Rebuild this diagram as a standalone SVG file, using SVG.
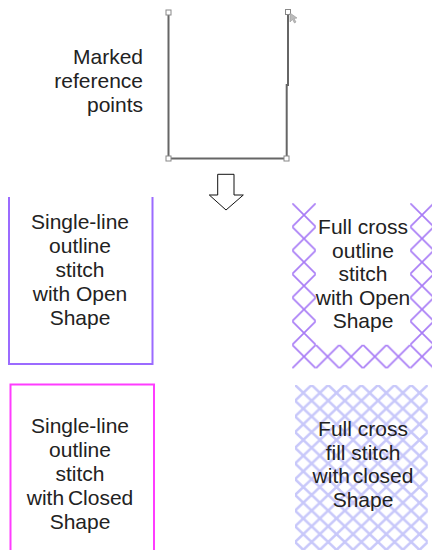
<svg xmlns="http://www.w3.org/2000/svg" width="432" height="550" viewBox="0 0 432 550">
<style>
text{font-family:"Liberation Sans",Arial,sans-serif;font-size:21px;fill:#222}
.c{text-anchor:middle}
.e{text-anchor:end}
.ref{fill:none;stroke:#666;stroke-width:2}
.pt{fill:#fff;stroke:#888;stroke-width:1}
</style>
<defs>
<pattern id="xo" patternUnits="userSpaceOnUse" x="292.2" y="203.2" width="23.6" height="23.6">
<path d="M0,0L23.6,23.6M23.6,0L0,23.6" stroke="#a87cf6" stroke-width="1.7" fill="none"/>
</pattern>
<pattern id="xf" patternUnits="userSpaceOnUse" x="295" y="385" width="16.6" height="15.7">
<path d="M0,0L16.6,15.7M16.6,0L0,15.7" stroke="#c8c8fa" stroke-width="2.6" fill="none"/>
</pattern>
</defs>
<g id="reference-shape">
<path class="ref" d="M168.5,12.5V158.5H286.7V85H288V12"/>
<rect class="pt" x="166" y="10" width="5" height="5"/>
<rect class="pt" x="285.5" y="9.5" width="5" height="5"/>
<rect class="pt" x="166" y="156" width="5" height="5"/>
<rect class="pt" x="284" y="156" width="5" height="5"/>
<path d="M290,13L290,22L292.5,19.5L294.5,23L296,22L294,18.5L297,18Z" fill="#bbb" stroke="#999" stroke-width="0.6"/>
<text class="e" x="143" y="64">Marked</text>
<text class="e" x="143" y="88">reference</text>
<text class="e" x="143" y="112">points</text>
</g>
<g id="connectors">
<path d="M217.7,174.3H234V195H243.3L226,210L209.3,195H217.7Z" fill="#fff" stroke="#111" stroke-width="1"/>
</g>
<g id="single-open">
<path d="M9,197V364H152.5V197" fill="none" stroke="#9b6bff" stroke-width="2"/>
<text class="c" x="80" y="229">Single-line</text>
<text class="c" x="80" y="253">outline</text>
<text class="c" x="80" y="277">stitch</text>
<text class="c" x="80" y="301">with Open</text>
<text class="c" x="80" y="325">Shape</text>
</g>
<g id="cross-open">
<rect x="292.2" y="203.2" width="23.6" height="165.2" fill="url(#xo)"/>
<rect x="315.8" y="344.8" width="94.4" height="23.6" fill="url(#xo)"/>
<rect x="410.2" y="203.2" width="23.6" height="165.2" fill="url(#xo)"/>
<text class="c" x="363" y="234">Full cross</text>
<text class="c" x="363" y="258">outline</text>
<text class="c" x="363" y="281">stitch</text>
<text class="c" x="363" y="305">with Open</text>
<text class="c" x="363" y="328">Shape</text>
</g>
<g id="single-closed">
<rect x="10.5" y="384.5" width="143.5" height="180" fill="none" stroke="#ff3cff" stroke-width="2"/>
<text class="c" x="80" y="433">Single-line</text>
<text class="c" x="80" y="457">outline</text>
<text class="c" x="80" y="481">stitch</text>
<text class="c" x="80" y="505" word-spacing="-2">with Closed</text>
<text class="c" x="80" y="529">Shape</text>
</g>
<g id="cross-fill">
<rect x="295" y="385" width="132.8" height="172.7" fill="url(#xf)"/>
<text class="c" x="363" y="436">Full cross</text>
<text class="c" x="363" y="460">fill stitch</text>
<text class="c" x="363" y="483" word-spacing="-3">with closed</text>
<text class="c" x="363" y="507">Shape</text>
</g>
</svg>
